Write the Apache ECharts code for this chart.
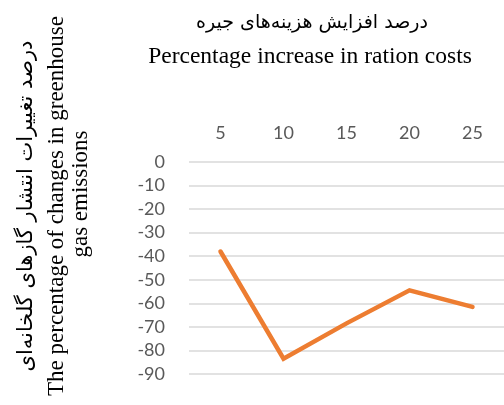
<!DOCTYPE html>
<html><head><meta charset="utf-8">
<script src="https://cdn.jsdelivr.net/npm/echarts@6/dist/echarts.min.js"></script>
<style>html,body{margin:0;padding:0;background:#fff}#c{width:504px;height:405px}</style>
</head><body><div id="c"></div>
<script>
const categories = ['5', '10', '15', '20', '25'];
const emissionChange = [-38, -83.5, -68.5, -54.5, -61.5];
const yMin = -90, yMax = 0, yStep = 10;
const xTitleFa = 'درصد افزایش هزینه‌های جیره';
const xTitleEn = 'Percentage increase in ration costs';
const yTitleFa = 'درصد تغییرات انتشار گازهای گلخانه‌ای';
const yTitleEn1 = 'The percentage of changes in greenhouse';
const yTitleEn2 = 'gas emissions';

const chart = echarts.init(document.getElementById('c'), null, {renderer: 'canvas'});
chart.setOption({
  animation: false,
  grid: {left: 189, right: -4, top: 162, bottom: 31, containLabel: false},
  xAxis: {
    type: 'category', data: categories, position: 'top',
    axisLine: {show: false}, axisTick: {show: false},
    axisLabel: {color: '#595959', fontFamily: 'Lato', fontSize: 18, margin: 20}
  },
  yAxis: {
    type: 'value', min: yMin, max: yMax, interval: yStep,
    axisLine: {show: false}, axisTick: {show: false},
    axisLabel: {color: '#595959', fontFamily: 'Lato', fontSize: 18, margin: 24},
    splitLine: {lineStyle: {color: '#d9d9d9', width: 1.5}}
  },
  series: [{
    type: 'line', data: emissionChange, symbol: 'none',
    lineStyle: {color: '#ED7D31', width: 4.5, cap: 'round', join: 'miter'}
  }],
  graphic: [
    {type: 'text', x: 312, y: 23, style: {text: xTitleFa, font: '19px "DejaVu Sans"', fill: '#000', align: 'center', verticalAlign: 'middle'}},
    {type: 'text', x: 310, y: 57, style: {text: xTitleEn, font: '23.5px "Liberation Serif"', fill: '#000', align: 'center', verticalAlign: 'middle'}},
    {type: 'text', x: 27, y: 206, rotation: Math.PI / 2, style: {text: yTitleFa, font: '21px "DejaVu Sans"', fill: '#000', align: 'center', verticalAlign: 'middle'}},
    {type: 'text', x: 57, y: 206, rotation: Math.PI / 2, style: {text: yTitleEn1, font: '23px "Liberation Serif"', fill: '#000', align: 'center', verticalAlign: 'middle'}},
    {type: 'text', x: 81, y: 194, rotation: Math.PI / 2, style: {text: yTitleEn2, font: '23px "Liberation Serif"', fill: '#000', align: 'center', verticalAlign: 'middle'}}
  ]
});
</script></body></html>
